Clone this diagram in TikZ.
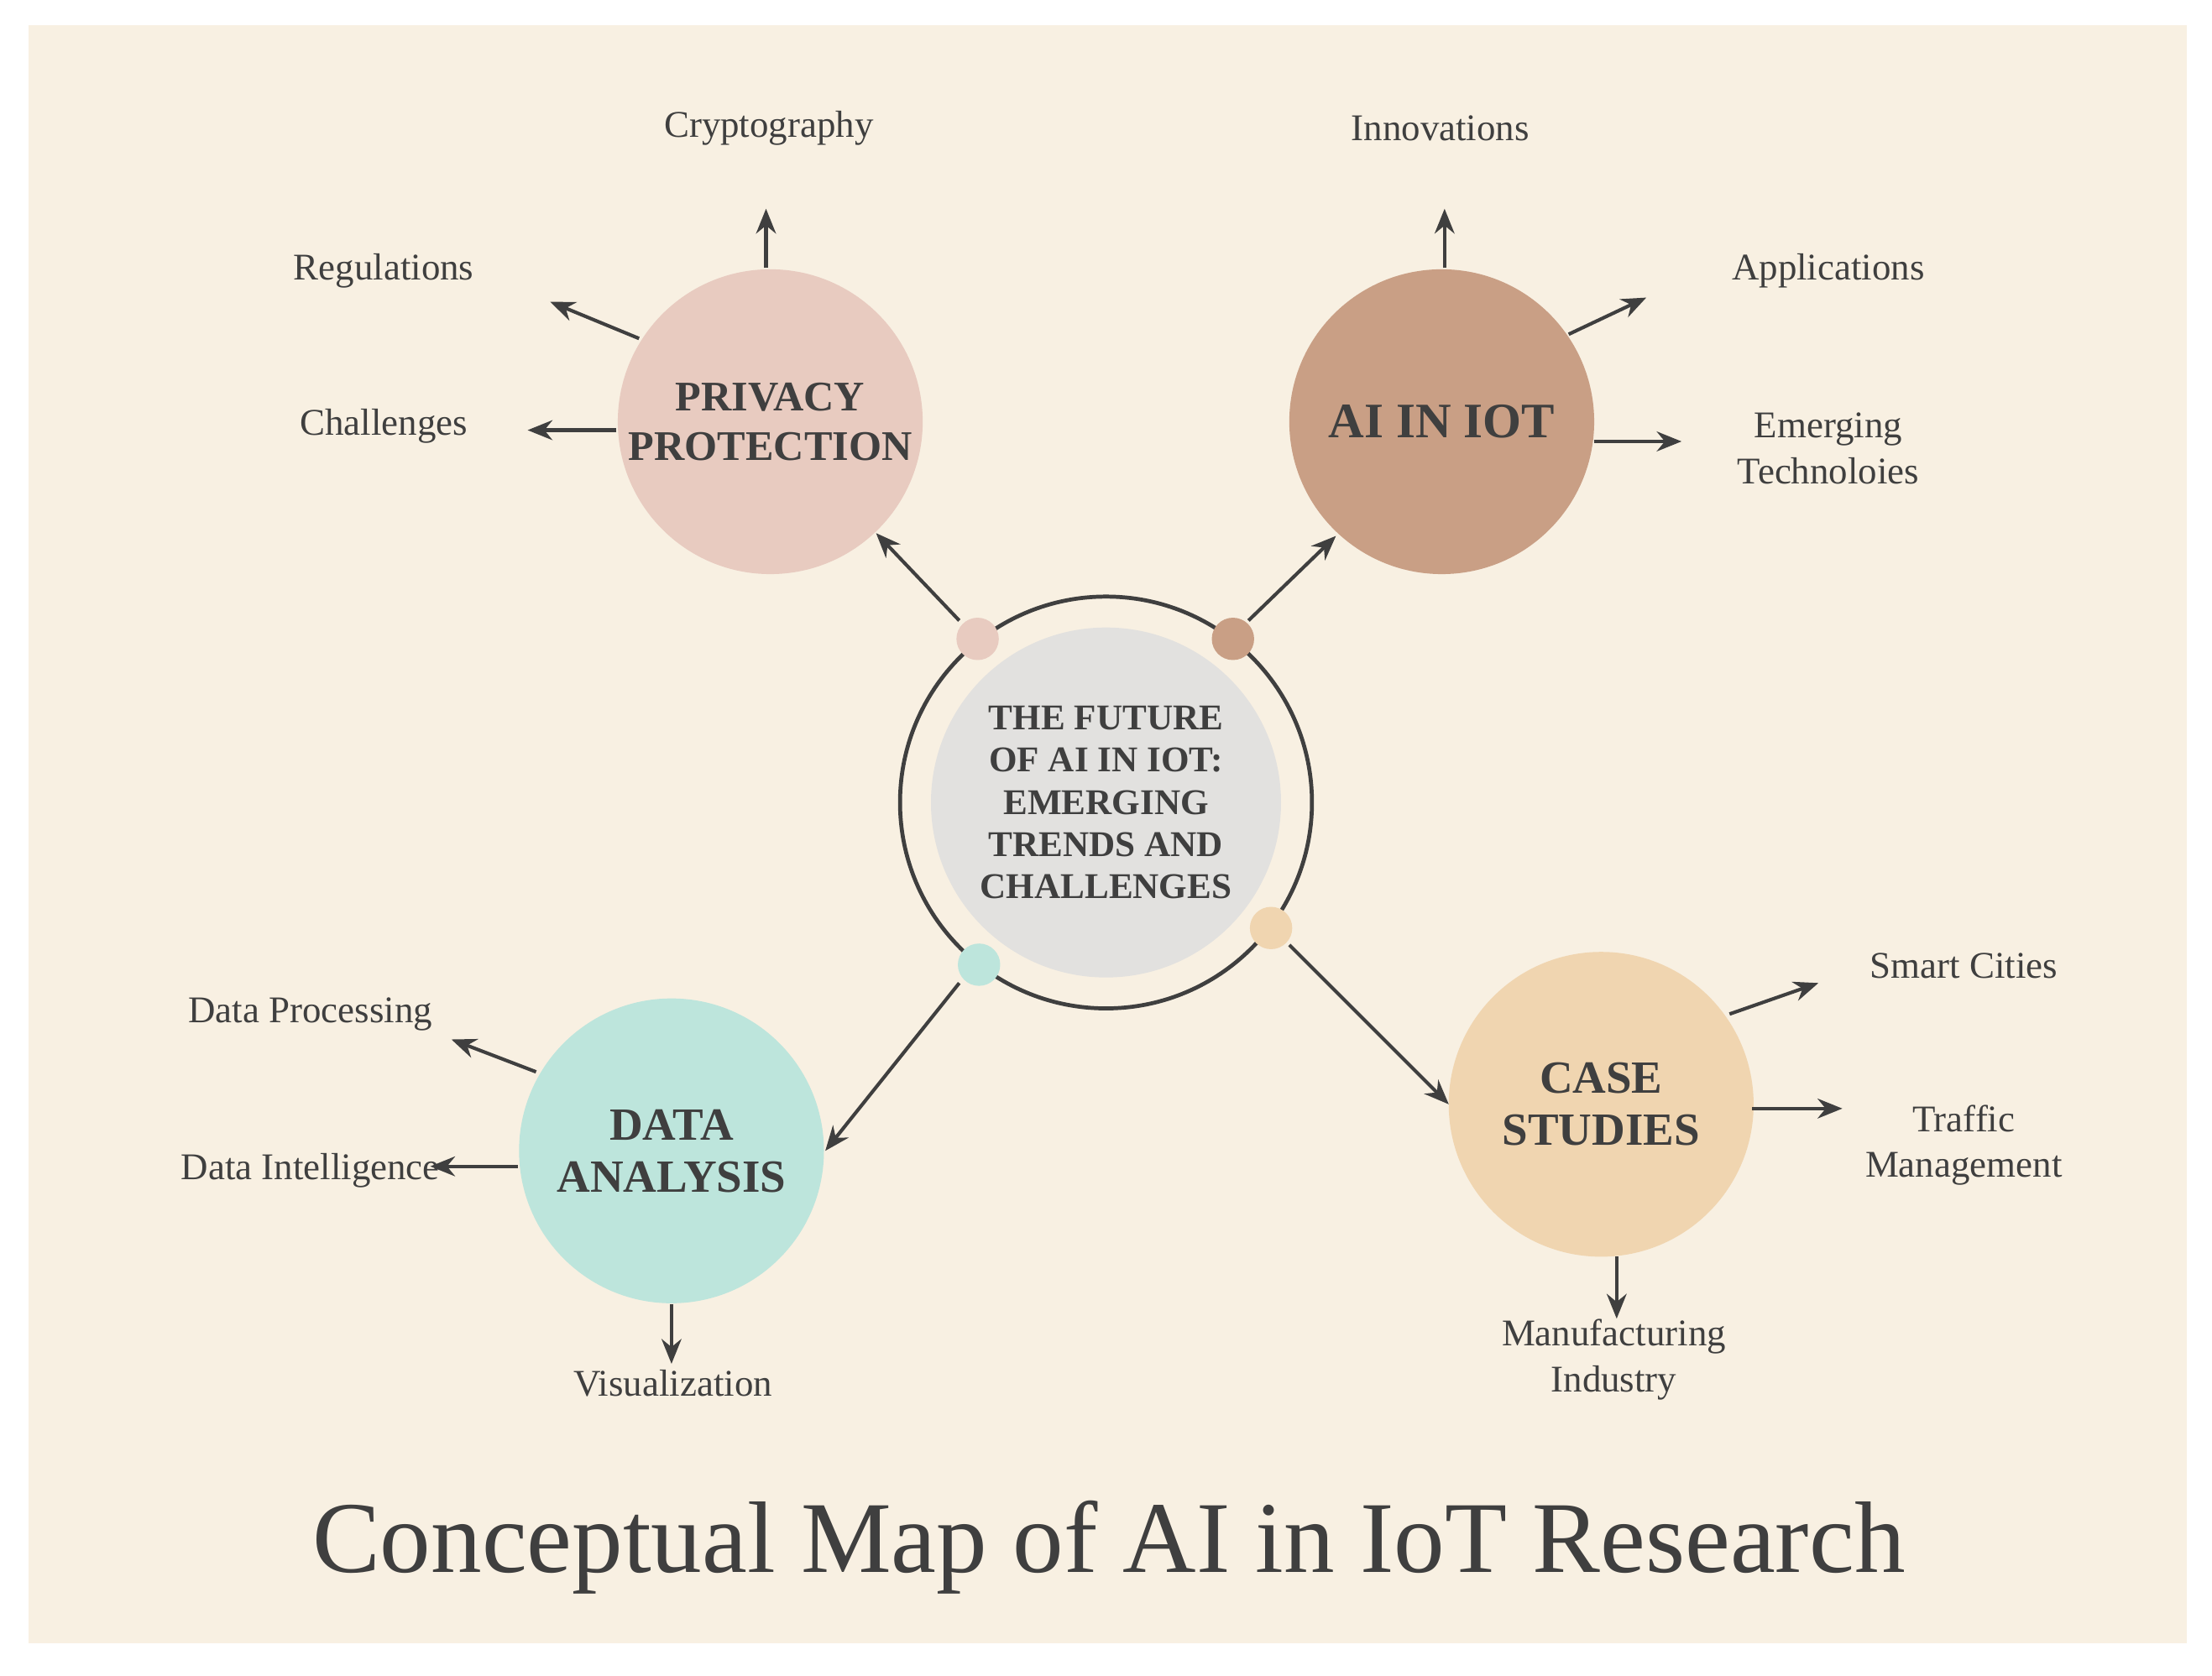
\documentclass[tikz,border=0pt]{standalone}
\usepackage{fontspec}
\setmainfont{Liberation Serif}
\usetikzlibrary{arrows.meta}
\definecolor{bg}{HTML}{F8F0E2}
\definecolor{tx}{HTML}{3F3F3F}
\definecolor{cpriv}{HTML}{E8CBC0}
\definecolor{cai}{HTML}{C99F85}
\definecolor{cmid}{HTML}{E2E1DF}
\definecolor{cdata}{HTML}{BDE5DC}
\definecolor{ccase}{HTML}{F0D5B0}
\begin{document}
\begin{tikzpicture}[x=0.01cm,y=-0.01cm,
  big/.style={circle,minimum size=2.16cm,inner sep=0pt,align=center,font=\fontsize{8.5pt}{10pt}\selectfont\bfseries,text=tx},
  dot/.style={circle,minimum size=0.3cm,inner sep=0pt},
  lab/.style={font=\fontsize{7.6pt}{9.3pt}\selectfont,text=tx,align=center},
  arr/.style={-{Stealth[length=5pt,width=4pt]},line width=0.7pt,draw=tx}]
\useasboundingbox (0,0) rectangle (1568,1188);
\fill[white] (0,0) rectangle (1568,1188);
\fill[bg] (20,18) rectangle (1550,1165);
% central
\draw[tx,line width=0.8pt] (784,569) circle (146);
\node[big,fill=cmid,minimum size=2.48cm,font=\fontsize{7.3pt}{8.5pt}\selectfont\bfseries] (mid) at (784,569) {THE FUTURE\\OF AI IN IOT:\\EMERGING\\TRENDS AND\\CHALLENGES};
\node[dot,fill=cpriv] (d1) at (693,453) {};
\node[dot,fill=cai] (d2) at (874,453) {};
\node[dot,fill=cdata] (d3) at (694,684) {};
\node[dot,fill=ccase] (d4) at (901,658) {};
% main circles
\node[big,fill=cpriv] (priv) at (546,299) {PRIVACY\\PROTECTION};
\node[big,fill=cai,font=\fontsize{10pt}{12pt}\selectfont\bfseries] (ai) at (1022,299) {AI IN IOT};
\node[big,fill=cdata,font=\fontsize{9.3pt}{10.5pt}\selectfont\bfseries] (data) at (476,816) {DATA\\ANALYSIS};
\node[big,fill=ccase,font=\fontsize{9.3pt}{10.5pt}\selectfont\bfseries] (case) at (1135,783) {CASE\\STUDIES};
% coordinates
\coordinate (a1s) at (680,440); \coordinate (a1e) at (621,378);
\coordinate (a2s) at (885,440); \coordinate (a2e) at (947,380);
\coordinate (a3s) at (680,697); \coordinate (a3e) at (585,816);
\coordinate (a4s) at (914,670); \coordinate (a4e) at (1027,783);
\draw[arr] (a1s) -- (a1e);
\draw[arr] (a2s) -- (a2e);
\draw[arr] (a3s) -- (a3e);
\draw[arr] (a4s) -- (a4e);
% labels
\node[lab] (l1) at (545,91) {Cryptography};
\node[lab] (l2) at (272,192) {Regulations};
\node[lab] (l3) at (272,302) {Challenges};
\node[lab] (l4) at (1021,91) {Innovations};
\node[lab] (l5) at (1296,192) {Applications};
\node[lab] (l6) at (1296,318) {Emerging\\Technoloies};
\node[lab] (l7) at (1392,685) {Smart Cities};
\node[lab] (l8) at (1392,812) {Traffic\\Management};
\node[lab] (l9) at (1144,964) {Manufacturing\\Industry};
\node[lab] (l10) at (220,719) {Data Processing};
\node[lab] (l11) at (220,830) {Data Intelligence};
\node[lab] (l12) at (477,981) {Visualization};
% outward arrows
\coordinate (p1s) at (543,190); \coordinate (p1e) at (543,148);
\coordinate (p2s) at (453,240); \coordinate (p2e) at (390,214);
\coordinate (p3s) at (437,305); \coordinate (p3e) at (374,305);
\coordinate (q1s) at (1024,190); \coordinate (q1e) at (1024,148);
\coordinate (q2s) at (1112,237); \coordinate (q2e) at (1167,211);
\coordinate (q3s) at (1130,313); \coordinate (q3e) at (1192,313);
\coordinate (r1s) at (380,760); \coordinate (r1e) at (320,737);
\coordinate (r2s) at (367,827); \coordinate (r2e) at (305,827);
\coordinate (r3s) at (476,925); \coordinate (r3e) at (476,967);
\coordinate (s1s) at (1226,719); \coordinate (s1e) at (1289,697);
\coordinate (s2s) at (1242,786); \coordinate (s2e) at (1306,786);
\coordinate (s3s) at (1146,891); \coordinate (s3e) at (1146,935);
\foreach \a in {p1,p2,p3,q1,q2,q3,r1,r2,r3,s1,s2,s3}{\draw[arr] (\a s) -- (\a e);}
\node[text=tx,font=\fontsize{20.5pt}{24pt}\selectfont] (title) at (786,1097) {Conceptual Map of AI in IoT Research};
\end{tikzpicture}
\end{document}
